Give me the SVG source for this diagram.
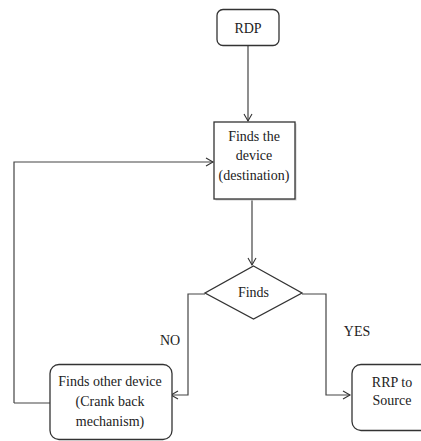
<svg xmlns="http://www.w3.org/2000/svg" width="421" height="441" viewBox="0 0 421 441">
<defs>
<marker id="arr" markerWidth="10" markerHeight="10" refX="8" refY="5" orient="auto" markerUnits="userSpaceOnUse">
<path d="M1,1 L8,5 L1,9" fill="none" stroke="#333" stroke-width="1.1"/>
</marker>
</defs>
<style>
.box{fill:#fff;stroke:#333;stroke-width:1.3}
.t{font-family:'Liberation Serif','DejaVu Serif',serif;font-size:14px;fill:#222;text-anchor:middle}
.c{fill:none;stroke:#444;stroke-width:1.2}
</style>
<rect width="421" height="441" fill="#fff"/>
<g id="connectors">
<path class="c" d="M248,46 L248,121" marker-end="url(#arr)"/>
<path class="c" d="M14,403 L14,162 L213,162" marker-end="url(#arr)"/>
<path class="c" d="M50,403 L14,403"/>
<path class="c" d="M252,199 L252,265" marker-end="url(#arr)"/>
<path class="c" d="M205,294 L188,294 L188,395 L171,395" marker-end="url(#arr)"/>
<path class="c" d="M302,294 L326,294 L326,395 L350,395" marker-end="url(#arr)"/>
</g>
<g id="rdp">
<rect class="box" x="217" y="9.5" width="62" height="36" rx="6"/>
<text class="t" x="248" y="33" font-family="Liberation Serif" font-size="15">RDP</text>
</g>
<g id="finds-device">
<rect x="215.5" y="123.5" width="81" height="77" fill="#ccc"/>
<rect class="box" x="214" y="122" width="81" height="77"/>
<text class="t" x="254" y="141" font-family="Liberation Serif">Finds the</text>
<text class="t" x="254" y="160" font-family="Liberation Serif">device</text>
<text class="t" x="254" y="180" font-family="Liberation Serif">(destination)</text>
</g>
<g id="decision">
<polygon class="box" points="253.5,266 302,293 253.5,319 205,293"/>
<text class="t" x="253.5" y="297" font-family="Liberation Serif">Finds</text>
</g>
<g id="labels">
<text class="t" x="170" y="345" font-family="Liberation Serif">NO</text>
<text class="t" x="357" y="336" font-family="Liberation Serif">YES</text>
</g>
<g id="other-device">
<rect class="box" x="50" y="364.5" width="122" height="75" rx="9"/>
<text class="t" x="110" y="386" font-family="Liberation Serif">Finds other device</text>
<text class="t" x="110" y="406" font-family="Liberation Serif">(Crank back</text>
<text class="t" x="110" y="426" font-family="Liberation Serif">mechanism)</text>
</g>
<g id="rrp">
<rect class="box" x="352" y="364.5" width="90" height="66" rx="9"/>
<text class="t" x="392" y="387" font-family="Liberation Serif">RRP to</text>
<text class="t" x="392" y="405" font-family="Liberation Serif">Source</text>
</g>
</svg>
